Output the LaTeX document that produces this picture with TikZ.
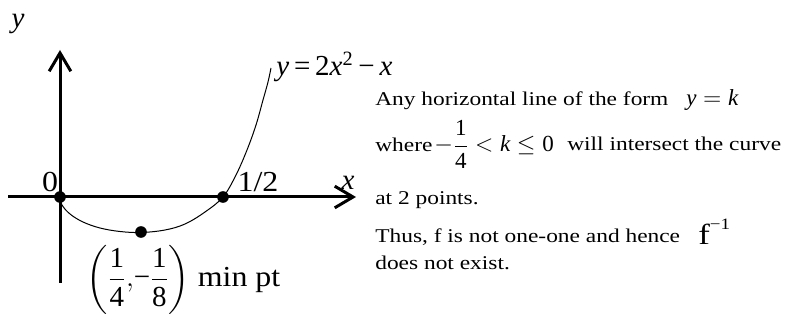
\documentclass[tikz,border=0pt]{standalone}
\usepackage{amsmath}
\usepackage{fontspec}
\setmainfont{Liberation Serif}
\newfontfamily\bodyfont[FakeStretch=1.2]{Liberation Serif}
\newfontfamily\lblfont[FakeStretch=1.1]{Liberation Serif}
\usetikzlibrary{arrows.meta}
\begin{document}
\begin{tikzpicture}[x=0.6pt,y=-0.6pt,
  axis/.style={line width=1.8pt,-{Straight Barb[length=11pt,width=13pt,line width=1.8pt]}},
  curveline/.style={line width=0.6pt},
  dot/.style={circle,fill=black,inner sep=0pt,minimum size=7pt},
  lbl/.style={font=\fontsize{17.4}{20}\selectfont,inner sep=0pt},
  slbl/.style={font=\lblfont\fontsize{17.4}{20}\selectfont,inner sep=0pt},
  body/.style={font=\bodyfont\fontsize{11.7}{14}\selectfont,anchor=base west,inner sep=0pt},
  bodymath/.style={font=\fontsize{13.8}{16}\selectfont,anchor=base west,inner sep=0pt}]
\useasboundingbox (0,0) rectangle (786,320);
% axes
\coordinate (xl) at (8,197);
\coordinate (xr) at (356,197);
\coordinate (yb) at (60,283);
\coordinate (yt) at (60,50);
\draw[axis] (xl) -- (xr);
\draw[axis] (yb) -- (yt);
% curve
\draw[curveline] plot[smooth,tension=0.6] coordinates {(60,197) (62,205) (70,214) (83,222) (100,228) (120,231.5) (141,232.5) (165,230) (185,224) (205,212) (223,197) (236,175) (247,150) (256,125) (263,100) (268,82) (271,68)};
% points
\node[dot] (o) at (60,197) {};
\node[dot] (h) at (223,197) {};
\node[dot] (m) at (141,232) {};
% labels
\node[lbl] (ylab) at (18,24) {\textit{y}};
\node[lbl] (xlab) at (348,183) {\textit{x}};
\node[slbl] (zero) at (50,182) {0};
\node[slbl] (half) at (258,182) {1/2};
\node[lbl,anchor=base west] (eq) at (276,76) {\textit{y}\,=\,2\textit{x}\textsuperscript{2}\,−\,\textit{x}};
\node[slbl,anchor=base west] (minpt) at (86,287) {$\left(\dfrac{\mathrm{1}}{\mathrm{4}},\!\mathrm{−}\dfrac{\mathrm{1}}{\mathrm{8}}\right)$ min pt};
% text block
\node[body] (t1) at (375,106) {Any horizontal line of the form};
\node[bodymath] (t1m) at (686,106) {$\mathit{y} = \mathit{k}$};
\node[body] (t2) at (375,152) {where};
\node[bodymath] (t2m) at (434,152) {$-\dfrac{\mathrm{1}}{\mathrm{4}} < \mathit{k} \le \mathrm{0}$};
\node[body] (t2b) at (567,151) {will intersect the curve};
\node[body] (t3) at (375,205) {at 2 points.};
\node[body] (t4) at (375,243) {Thus, f is not one-one and hence};
\node[body] (t4m) at (698,245) {{\fontsize{17.4}{20}\selectfont f}\raisebox{9pt}{\fontsize{9.5}{10}\selectfont −1}};
\node[body] (t5) at (375,270) {does not exist.};
\end{tikzpicture}
\end{document}
